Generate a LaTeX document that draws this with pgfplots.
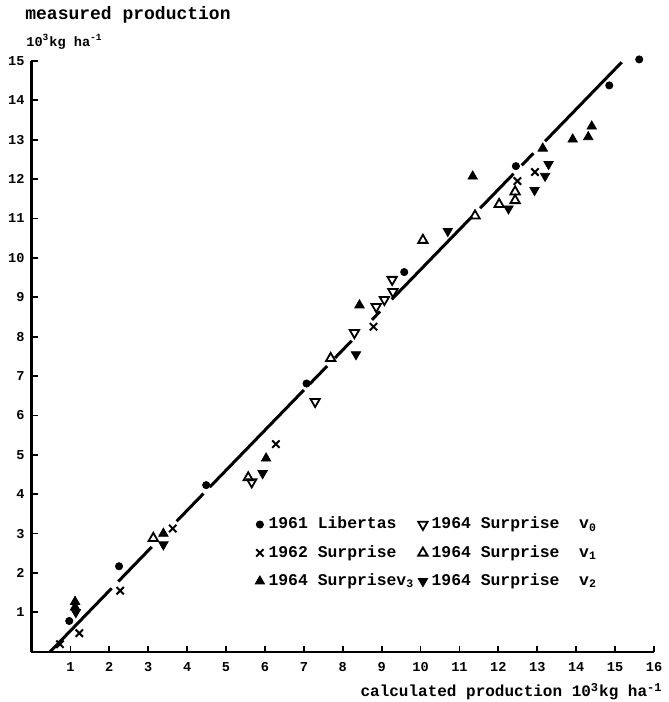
\documentclass[border=0pt]{standalone}
\usepackage{fontspec}
\setmainfont{Liberation Mono}
\usepackage{pgfplots}
\pgfplotsset{compat=1.18}
\begin{document}
\begin{tikzpicture}
\begin{axis}[
  scale only axis,
  width=311.25pt, height=295.35pt,
  xmin=0, xmax=16, ymin=0, ymax=15,
  axis lines=left,
  axis line style={-, line width=1.1pt},
  x axis line style={-}, y axis line style={-},
  xtick={1,...,16}, ytick={1,...,15},
  tick align=inside,
  major tick length=3pt,
  tick style={line width=0.9pt, black},
  tick label style={font=\fontsize{6.8}{8}\selectfont\bfseries},
  xticklabel style={yshift=-2pt},
  /pgf/number format/assume math mode=true,
  clip=false,
  legend columns=2,
  legend cell align=left,
  legend image code/.code={\draw[mark repeat=2,mark phase=2,#1] plot coordinates {(-1pt,0pt) (0pt,0pt) (1pt,0pt)};},
  legend style={draw=none, fill=none, inner sep=0pt, outer sep=0pt,
    at={(axis cs:5.75,3.52)}, anchor=north west,
    font=\fontsize{8.2}{10}\selectfont\bfseries, column sep=0pt, row sep=2.75pt},
]
% 1961 Libertas
\addplot[only marks, mark=*, mark size=1.8pt, black] coordinates {
(0.97,0.78) (2.25,2.17) (4.49,4.23) (7.07,6.81) (9.58,9.64) (12.45,12.33) (14.85,14.38) (15.62,15.04)};
% 1964 v0
\addplot[only marks, mark=triangle, mark size=2.7pt, black, line width=0.9pt, mark options={rotate=180}] coordinates {
(5.66,4.31) (7.29,6.35) (8.30,8.10) (8.86,8.76) (9.07,8.94) (9.29,9.14) (9.27,9.45)};
% 1962 Surprise
\addplot[only marks, mark=x, mark size=2.6pt, black, line width=1pt] coordinates {
(0.73,0.19) (1.23,0.47) (2.28,1.55) (3.63,3.13) (6.28,5.27) (8.79,8.25) (12.49,11.95) (12.94,12.18)};
% 1964 v1
\addplot[only marks, mark=triangle, mark size=2.7pt, black, line width=0.9pt] coordinates {
(3.13,2.88) (5.57,4.42) (7.69,7.45) (10.06,10.45) (11.40,11.07) (12.02,11.36) (12.43,11.46) (12.43,11.68)};
% 1964 v3
\addplot[only marks, mark=triangle*, mark size=2.7pt, black] coordinates {
(1.12,1.27) (1.12,1.13) (3.39,3.0) (6.03,4.91) (8.43,8.80) (11.34,12.07) (13.14,12.78) (13.91,13.01) (14.31,13.07) (14.40,13.34)};
% 1964 v2
\addplot[only marks, mark=triangle*, mark size=2.7pt, black, mark options={rotate=180}] coordinates {
(1.14,1.0) (3.39,2.72) (5.94,4.53) (8.34,7.55) (10.70,10.68) (12.26,11.25) (12.93,11.72) (13.2,12.08) (13.29,12.38)};
\legend{1961 Libertas, 1964 Surprise\ \ v\textsubscript{0}, 1962 Surprise, 1964 Surprise\ \ v\textsubscript{1}, 1964 Surprisev\textsubscript{3}, 1964 Surprise\ \ v\textsubscript{2}}
% fitted line, drawn in segments
\addplot[black, line width=1.5pt, forget plot] coordinates {(0.48,0) (2.06,1.610)};
\addplot[black, line width=1.5pt, forget plot] coordinates {(2.23,1.783) (3.09,2.660)};
\addplot[black, line width=1.5pt, forget plot] coordinates {(3.73,3.312) (4.42,4.015)};
\addplot[black, line width=1.5pt, forget plot] coordinates {(4.58,4.178) (7.0,6.644)};
\addplot[black, line width=1.5pt, forget plot] coordinates {(7.15,6.797) (7.6,7.255)};
\addplot[black, line width=1.5pt, forget plot] coordinates {(7.8,7.459) (8.23,7.897)};
\addplot[black, line width=1.5pt, forget plot] coordinates {(8.75,8.427) (8.96,8.641)};
\addplot[black, line width=1.5pt, forget plot] coordinates {(9.26,8.947) (11.32,11.046)};
\addplot[black, line width=1.5pt, forget plot] coordinates {(11.53,11.260) (12.39,12.136)};
\addplot[black, line width=1.5pt, forget plot] coordinates {(12.6,12.350) (12.9,12.656)};
\addplot[black, line width=1.5pt, forget plot] coordinates {(13.2,12.962) (15.17,14.969)};
\node[anchor=base west, inner sep=0pt, xshift=-3.25pt, yshift=20.5pt, font=\fontsize{9}{11}\selectfont\bfseries] at (rel axis cs:0,1) {measured production};
\node[anchor=base west, inner sep=0pt, xshift=-2.75pt, yshift=7pt, font=\fontsize{6.8}{8}\selectfont\bfseries] at (rel axis cs:0,1) {10\textsuperscript{3}kg ha\textsuperscript{-1}};
\node[anchor=base east, inner sep=0pt, xshift=4.5pt, yshift=-22.5pt, font=\fontsize{8}{10}\selectfont\bfseries] at (rel axis cs:1,0) {calculated production 10\textsuperscript{3}kg ha\textsuperscript{-1}};
\coordinate (bbsw) at (rel axis cs:0,0);
\coordinate (bbne) at (rel axis cs:1,1);
\end{axis}
\path ([xshift=-15.75pt,yshift=-25.15pt]bbsw) rectangle ([xshift=6.5pt,yshift=30.5pt]bbne);
\end{tikzpicture}
\end{document}
